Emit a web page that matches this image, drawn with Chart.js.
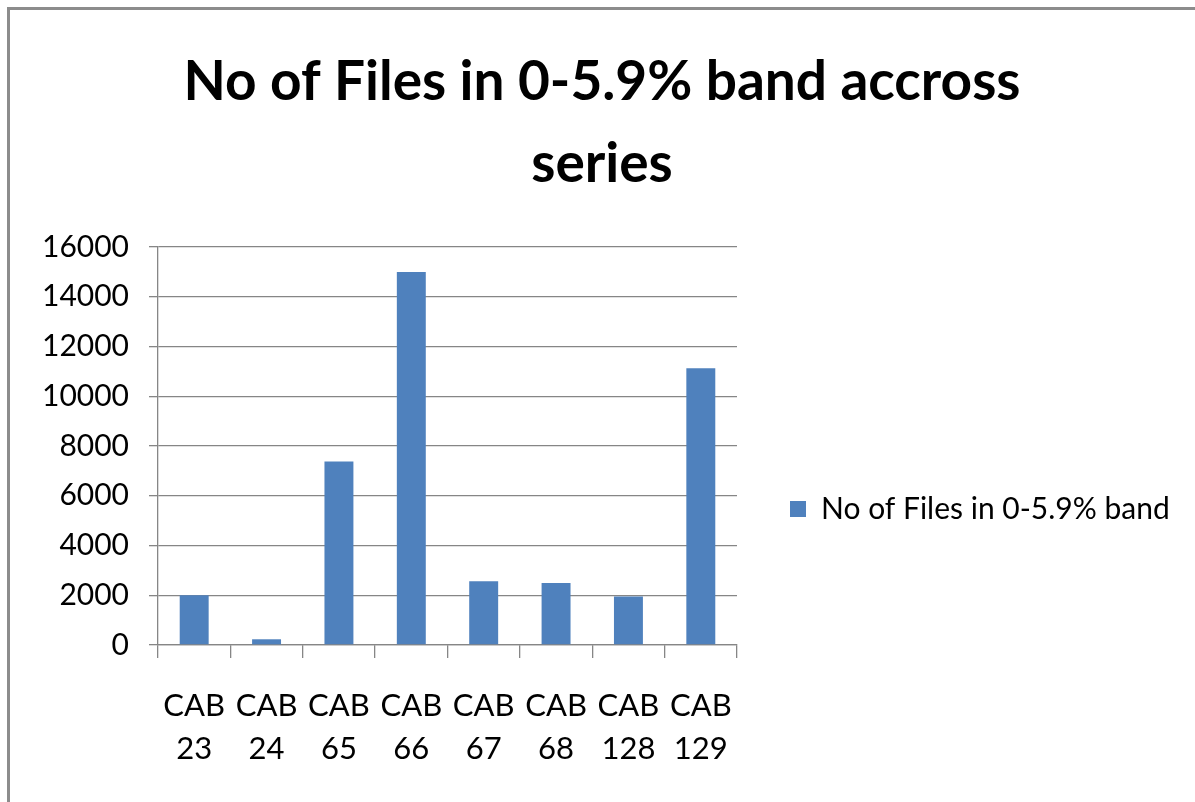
<!DOCTYPE html>
<html>
<head>
<meta charset="utf-8">
<title>No of Files in 0-5.9% band accross series</title>
<script src="https://cdn.jsdelivr.net/npm/chart.js@4.4.1/dist/chart.umd.min.js"></script>
<style>
  html, body { margin: 0; padding: 0; background: #fff; overflow: hidden; }
  #frame { position: absolute; left: 7px; top: 7px; width: 1300px; height: 900px;
           border: 3px solid #8c8c8c; box-sizing: border-box; }
  #wrap { position: absolute; left: 0; top: 0; width: 1195px; height: 802px; }
</style>
</head>
<body>
<div id="frame"></div>
<div id="wrap"><canvas id="chart" width="1195" height="802"></canvas></div>
<script>
// data
const categories = [
  ["CAB", "23"], ["CAB", "24"], ["CAB", "65"], ["CAB", "66"],
  ["CAB", "67"], ["CAB", "68"], ["CAB", "128"], ["CAB", "129"]
];
const seriesName = "No of Files in 0-5.9% band";
const fileCounts = [2000, 230, 7380, 15000, 2560, 2490, 1950, 11130];
const yTicks = [0, 2000, 4000, 6000, 8000, 10000, 12000, 14000, 16000];
const chartTitle = ["No of Files in 0-5.9% band accross", "series"];

const FONT = "Lato, 'Open Sans', sans-serif";
const GRID = "#868686";
const BAR = "#4f81bd";

const canvas = document.getElementById("chart");
const ctx = canvas.getContext("2d");

// legend sizing: keep the plot's right edge near 737px and the legend box near 790px
const legendSize = 30;
const legendPad = 53;
ctx.font = legendSize + "px " + FONT;
const legendTextW = ctx.measureText(seriesName).width;
const legendW = legendPad + 16 + legendSize / 2 + legendTextW + 10;
const rightPad = Math.max(0, canvas.width - 737 - legendW);
// left padding nudges the centred title to the right, the y axis takes the rest
const leftPad = Math.max(0, 9 + rightPad);

new Chart(ctx, {
  type: "bar",
  data: {
    labels: categories,
    datasets: [
      {
        label: seriesName,
        data: fileCounts,
        backgroundColor: BAR,
        borderWidth: 0,
        categoryPercentage: 1,
        barPercentage: 0.4,
      },
    ],
  },
  options: {
    responsive: false,
    animation: false,
    devicePixelRatio: 1,
    layout: { padding: { left: leftPad, right: rightPad, top: 0, bottom: 0 } },
    plugins: {
      tooltip: { enabled: false },
      title: {
        display: true,
        text: chartTitle,
        color: "#000",
        font: { family: FONT, size: 55, weight: "bold", lineHeight: 1.5 },
        padding: { top: 41, bottom: 41 },
      },
      legend: {
        position: "right",
        align: "center",
        maxWidth: 600,
        title: {
          display: true,
          text: "",
          font: { family: FONT, size: 16, lineHeight: 1 },
          padding: { top: 200, bottom: 0 },
        },
        labels: {
          color: "#000",
          font: { family: FONT, size: legendSize },
          boxWidth: 16,
          boxHeight: 16,
          padding: legendPad,
        },
      },
    },
    scales: {
      x: {
        offset: true,
        grid: {
          offset: true,
          drawOnChartArea: false,
          color: GRID,
          lineWidth: 1.3,
          tickLength: 13,
        },
        border: { color: GRID, width: 1.3 },
        ticks: {
          color: "#000",
          font: { family: FONT, size: 31, lineHeight: 1.4 },
          padding: 26,
          maxRotation: 0,
          autoSkip: false,
        },
        afterFit: (scale) => { scale.height = 157; },
      },
      y: {
        min: yTicks[0],
        max: yTicks[yTicks.length - 1],
        grid: { color: GRID, lineWidth: 1.3, tickLength: 9 },
        border: { color: GRID, width: 1.3 },
        ticks: {
          stepSize: yTicks[1] - yTicks[0],
          callback: (v) => String(v),
          color: "#000",
          font: { family: FONT, size: 30 },
          padding: 20,
        },
        afterFit: (scale) => { scale.width = 158 - leftPad; },
      },
    },
  },
});
</script>
</body>
</html>
